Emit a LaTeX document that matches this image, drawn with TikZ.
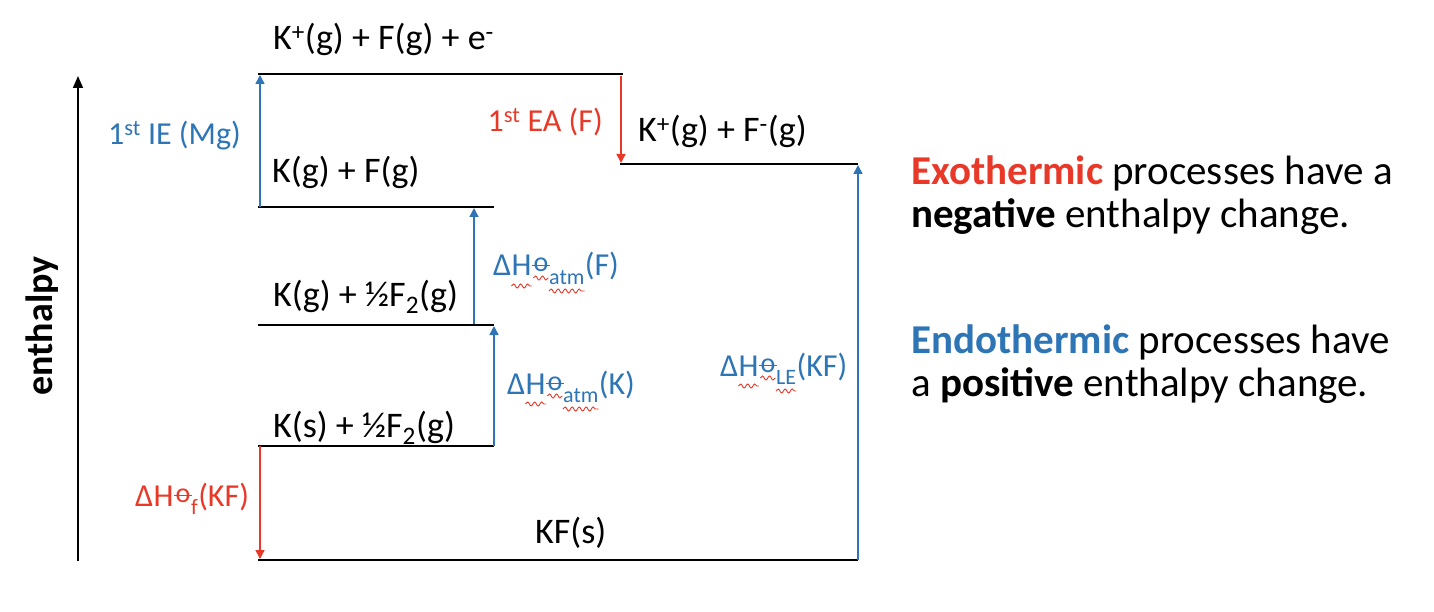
\documentclass[tikz,border=0pt]{standalone}
\usepackage{fontspec}
\setmainfont{Carlito}
\usetikzlibrary{arrows.meta,calc,decorations.pathmorphing}
\definecolor{wblue}{RGB}{46,117,182}
\definecolor{wred}{RGB}{232,56,40}
\tikzset{
  lvl/.style={line width=2pt, black},
  lvltext/.style={font=\fontsize{36}{42}\selectfont, inner sep=0pt, anchor=base west},
  lab/.style={font=\fontsize{32}{38}\selectfont, inner sep=0pt},
  labs/.style={font=\fontsize{22}{26}\selectfont, inner sep=0pt},
  labo/.style={font=\fontsize{28}{32}\selectfont, inner sep=0pt},
  upar/.style={wblue, line width=1.6pt, -{Triangle[length=9pt,width=9pt]}},
  dnar/.style={wred, line width=1.6pt, -{Triangle[length=9pt,width=9pt]}},
  side/.style={font=\fontsize{41}{48}\selectfont, inner sep=0pt, anchor=base west},
  wave/.style={wred, line width=0.9pt, decorate, decoration={snake, segment length=7pt, amplitude=2pt}},
}
% ΔH(standard)_sub(tail): #1 name prefix, #2 position, #3 subscript, #4 tail
\newcommand\dhparts[4]{%
  \node[lab, anchor=base west] (#1d) at #2 {Δ};
  \node[lab, anchor=base west] (#1h) at (#1d.base east) {H};
  \node[labo, anchor=base west] (#1p) at ($(#1h.base east)+(1.5,-4)$) {o};
  \draw[line width=1.5pt] ($(#1p.base west)+(-1,-6.5)$) -- ($(#1p.base east)+(1.5,-6.5)$);
  \node[labs, anchor=base west] (#1b) at ($(#1p.base east)+(0.5,12)$) {#3};
  \node[lab, anchor=base west] (#1t) at ($(#1b.base east)+(0,-8)$) {#4};
}
\newcommand\dhwaves[1]{%
  \draw[wave] ($(#1h.base west)+(0,10)$) -- ($(#1h.base east)+(0,10)$);
  \draw[wave] ($(#1p.base west)+(0,6)$) -- ($(#1p.base east)+(0,6)$);
  \draw[wave] ($(#1b.base west)+(0,7)$) -- ($(#1b.base east)+(0,7)$);
}
\begin{document}
\begin{tikzpicture}[x=1pt,y=-1pt]
\useasboundingbox (0,0) rectangle (1434,612);
% axis
\coordinate (ax0) at (78,561);
\coordinate (ax1) at (78,76);
\draw[line width=1.6pt, -{Triangle[length=12pt,width=10pt]}] (ax0) -- (ax1);
\node[rotate=90, inner sep=0pt, font=\fontsize{38}{44}\selectfont\bfseries] (enth) at (42,326) {enthalpy};
% levels
\coordinate (L1a) at (258,74);  \coordinate (L1b) at (623,74);
\coordinate (L2a) at (258,207); \coordinate (L2b) at (494,207);
\coordinate (L3a) at (620,164); \coordinate (L3b) at (858,164);
\coordinate (L4a) at (258,325); \coordinate (L4b) at (494,325);
\coordinate (L5a) at (258,446); \coordinate (L5b) at (494,446);
\coordinate (L6a) at (258,560); \coordinate (L6b) at (858,560);
\draw[lvl] (L1a) -- (L1b);
\draw[lvl] (L2a) -- (L2b);
\draw[lvl] (L3a) -- (L3b);
\draw[lvl] (L4a) -- (L4b);
\draw[lvl] (L5a) -- (L5b);
\draw[lvl] (L6a) -- (L6b);
\node[lvltext] (t1) at (273,50) {K\textsuperscript{+}(g) + F(g) + e\textsuperscript{-}};
\node[lvltext] (t2) at (272,183) {K(g) + F(g)};
\node[lvltext] (t3) at (638,142) {K\textsuperscript{+}(g) + F\textsuperscript{-}(g)};
\node[lvltext] (t4) at (273,306) {K(g) + ½F\textsubscript{2}(g)};
\node[lvltext] (t5) at (273,437) {K(s) + ½F\textsubscript{2}(g)};
\node[lvltext] (t6) at (535,543) {KF(s)};
% arrow end points
\coordinate (ie0) at (260,207); \coordinate (ie1) at (260,75);
\coordinate (ea0) at (621,76);  \coordinate (ea1) at (621,163);
\coordinate (af0) at (474,324); \coordinate (af1) at (474,208);
\coordinate (ak0) at (494,446); \coordinate (ak1) at (494,326);
\coordinate (le0) at (858,560); \coordinate (le1) at (858,165);
\coordinate (hf0) at (260,446); \coordinate (hf1) at (260,559);
\draw[upar] (ie0) -- (ie1);
\draw[dnar] (ea0) -- (ea1);
\draw[upar] (af0) -- (af1);
\draw[upar] (ak0) -- (ak1);
\draw[upar] (le0) -- (le1);
\draw[dnar] (hf0) -- (hf1);
% arrow labels
\node[lab, wblue, anchor=base east] (lie) at (241,145) {1\textsuperscript{st} IE (Mg)};
\node[lab, wred, anchor=base east] (lea) at (603,132) {1\textsuperscript{st} EA (F)};
\begin{scope}[color=wblue]
\dhparts{laf}{(493,276)}{atm}{(F)}
\dhparts{lak}{(507,394)}{atm}{(K)}
\dhparts{lle}{(720,376)}{LE}{(KF)}
\end{scope}
\dhwaves{laf}
\dhwaves{lak}
\dhwaves{lle}
\begin{scope}[color=wred]
\dhparts{lhf}{(135,506)}{f}{(KF)}
\end{scope}
% side text
\node[side] (s1) at (911,185) {{\color{wred}\bfseries Exothermic} processes have a};
\node[side] (s2) at (911,228) {{\bfseries negative} enthalpy change.};
\node[side] (s3) at (911,353) {{\color{wblue}\bfseries Endothermic} processes have};
\node[side] (s4) at (911,396) {a {\bfseries positive} enthalpy change.};
\end{tikzpicture}
\end{document}
